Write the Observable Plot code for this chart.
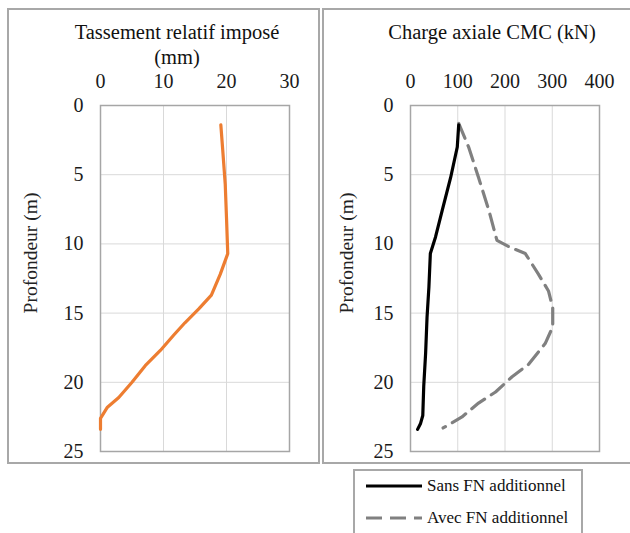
<!DOCTYPE html>
<html>
<head>
<meta charset="utf-8">
<script src="https://cdn.jsdelivr.net/npm/d3@7"></script>
<script src="https://cdn.jsdelivr.net/npm/@observablehq/plot@0.6"></script>
<style>
  body { margin:0; background:#fff; width:630px; height:533px; overflow:hidden; position:relative; font-family:"Liberation Serif","DejaVu Serif",serif; }
  .panel { position:absolute; border:2px solid #a8a8a8; box-sizing:border-box; }
  .title { position:absolute; font-family:"Liberation Serif",serif; font-size:20.5px; color:#111; text-align:center; line-height:25px; white-space:nowrap; }
  .ylab { position:absolute; font-family:"Liberation Serif",serif; font-size:19.5px; color:#222; white-space:nowrap; transform:translate(-50%,-50%) rotate(-90deg); }
  .plot { position:absolute; }
  .legend { position:absolute; left:353px; top:469px; width:230px; height:80px; border:2px solid #a8a8a8; box-sizing:border-box; background:#fff; }
  .legend .item { position:absolute; left:11px; font-family:"Liberation Serif",serif; font-size:17px; color:#111; white-space:nowrap; display:flex; align-items:center; }
  .legend svg { margin-right:5px; }
</style>
</head>
<body>
<div class="panel" style="left:7px; top:8px; width:313px; height:456px;"></div>
<div class="panel" style="left:322px; top:8px; width:320px; height:456px;"></div>
<div class="title" style="left:62px; top:20px; width:230px;">Tassement relatif imposé<br>(mm)</div>
<div class="title" style="left:377px; top:20px; width:230px;">Charge axiale CMC (kN)</div>
<div class="ylab" style="left:31px; top:253px;">Profondeur (m)</div>
<div class="ylab" style="left:347px; top:253px;">Profondeur (m)</div>
<div id="left" class="plot" style="left:0; top:0;"></div>
<div id="right" class="plot" style="left:315px; top:0;"></div>
<div class="legend">
  <div class="item" style="top:5px;"><svg width="56" height="6"><line x1="0" y1="3" x2="56" y2="3" stroke="#000" stroke-width="3"/></svg>Sans FN additionnel</div>
  <div class="item" style="top:37px;"><svg width="56" height="6"><line x1="0" y1="3" x2="56" y2="3" stroke="#808080" stroke-width="3" stroke-dasharray="16,8"/></svg>Avec FN additionnel</div>
</div>
<script>
// Left panel: tassement relatif imposé (mm) vs profondeur (m)
const tassementDepth = [1.4, 3.2, 5.7, 8.1, 10.7, 12.2, 13.7, 14.7, 15.7, 16.6, 17.7, 18.8, 20.0, 21.1, 21.8, 22.6, 23.4];
const tassementValue = [19.1, 19.4, 19.8, 20.0, 20.2, 19.0, 17.6, 15.6, 13.4, 11.6, 9.5, 7.1, 5.0, 2.9, 1.1, 0.0, 0.0];

// Right panel: charge axiale CMC (kN)
const sansDepth = [1.4, 3.0, 5.2, 7.6, 9.5, 10.7, 13.1, 15.3, 17.9, 20.3, 22.4, 23.0, 23.4];
const sansValue = [102, 99, 85, 67, 53, 42, 39, 35, 32, 28, 26, 21, 15];
const avecDepth = [1.3, 3.0, 5.2, 7.6, 9.75, 10.2, 10.7, 12.2, 13.4, 14.6, 16.0, 17.2, 18.7, 19.6, 20.7, 21.5, 22.5, 23.3];
const avecValue = [102, 123, 144, 166, 183, 208, 243, 271, 292, 301, 301, 285, 250, 215, 180, 144, 109, 69];

const depthTicks = [0, 5, 10, 15, 20, 25];
const leftTicks = [0, 10, 20, 30];
const rightTicks = [0, 100, 200, 300, 400];

const toRows = (xs, ys) => xs.map((d, i) => ({depth: d, value: ys[i]}));
const tassement = toRows(tassementDepth, tassementValue);
const sans = toRows(sansDepth, sansValue);
const avec = toRows(avecDepth, avecValue);

const common = {
  height: 465,
  marginTop: 105,
  marginBottom: 14,
  style: {fontFamily: "Liberation Serif, DejaVu Serif, serif", fontSize: "20px", color: "#1a1a1a", background: "transparent", overflow: "visible"},
  y: {domain: [0, 25], reverse: true}
};

function axes(xTicks) {
  return [
    Plot.gridX(xTicks, {stroke: "#d9d9d9", strokeOpacity: 1}),
    Plot.gridY(depthTicks, {stroke: "#d9d9d9", strokeOpacity: 1}),
    Plot.frame({stroke: "#a6a6a6", strokeWidth: 1.5}),
    Plot.axisX({anchor: "top", ticks: xTicks, tickSize: 0, tickPadding: 18, label: null}),
    Plot.axisY({anchor: "left", ticks: depthTicks, tickSize: 0, tickPadding: 17, label: null})
  ];
}

const left = Plot.plot({
  ...common,
  width: 320,
  marginLeft: 100,
  marginRight: 31,
  x: {domain: [0, 30]},
  marks: [
    ...axes(leftTicks),
    Plot.line(tassement, {x: "value", y: "depth", stroke: "#ed7d31", strokeWidth: 3.2})
  ]
});
document.getElementById("left").appendChild(left);

const right = Plot.plot({
  ...common,
  width: 315,
  marginLeft: 95,
  marginRight: 31,
  x: {domain: [0, 400]},
  marks: [
    ...axes(rightTicks),
    Plot.line(avec, {x: "value", y: "depth", stroke: "#808080", strokeWidth: 3.2, strokeDasharray: "16,8"}),
    Plot.line(sans, {x: "value", y: "depth", stroke: "#000", strokeWidth: 3.2})
  ]
});
document.getElementById("right").appendChild(right);
</script>
</body>
</html>
